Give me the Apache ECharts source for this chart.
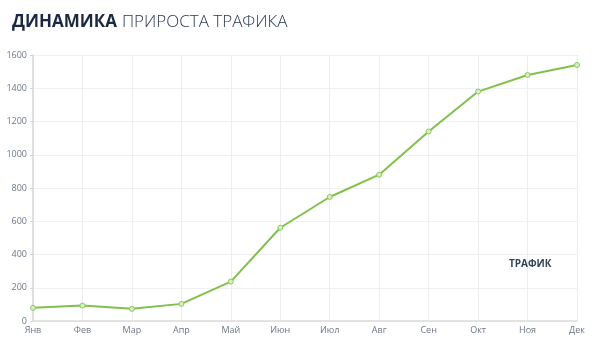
<!DOCTYPE html>
<html><head><meta charset="utf-8">
<script src="https://cdn.jsdelivr.net/npm/echarts@6/dist/echarts.min.js"></script>
<style>html,body{margin:0;padding:0;background:#fff}#c{width:604px;height:359px}</style>
</head><body><div id="c"></div>
<script>
var months = ['Янв','Фев','Мар','Апр','Май','Июн','Июл','Авг','Сен','Окт','Ноя','Дек'];
var traffic = [79, 93, 73, 103, 237, 561, 746, 880, 1140, 1380, 1480, 1540];
var yTicks = {min: 0, max: 1600, interval: 200};
var seriesName = 'ТРАФИК';

var chart = echarts.init(document.getElementById('c'));
chart.setOption({
  animation: false,
  title: {
    text: '{b|ДИНАМИКА} {l|ПРИРОСТА ТРАФИКА}',
    left: 7, top: 8,
    textStyle: {
      rich: {
        b: {fontFamily: 'Open Sans', fontWeight: 'bold', fontSize: 17, color: '#1b2940'},
        l: {fontFamily: 'Open Sans', fontWeight: 300, fontSize: 17, color: '#2a3854'}
      }
    }
  },
  legend: {
    data: [{name: seriesName, icon: 'none'}],
    left: 499, top: 252,
    itemWidth: 0, itemGap: 0,
    textStyle: {fontFamily: 'Open Sans', fontWeight: 'bold', fontSize: 10, color: '#34425a'}
  },
  grid: {left: 33, right: 27, top: 55, bottom: 38},
  xAxis: {
    type: 'category', data: months, boundaryGap: false,
    axisLine: {lineStyle: {color: '#dcdcdc', width: 1.5}},
    axisTick: {show: false},
    axisLabel: {color: '#6b7689', fontSize: 9, fontFamily: 'Open Sans', margin: 5},
    splitLine: {show: true, lineStyle: {color: '#ededed'}}
  },
  yAxis: {
    type: 'value', min: yTicks.min, max: yTicks.max, interval: yTicks.interval,
    axisLine: {show: true, lineStyle: {color: '#d6d6d6', width: 1.5}},
    axisTick: {show: true, length: 3, lineStyle: {color: '#d6d6d6'}},
    axisLabel: {color: '#6b7689', fontSize: 9, fontFamily: 'Open Sans', margin: 6,
      formatter: function (v) { return String(v); }},
    splitLine: {lineStyle: {color: '#f0f0f0'}}
  },
  series: [{
    name: seriesName, type: 'line', data: traffic,
    symbol: 'circle', symbolSize: 5,
    itemStyle: {color: '#d7eec3', borderColor: '#8cc85a', borderWidth: 1},
    lineStyle: {color: '#80c14a', width: 2}
  }]
});
</script></body></html>
